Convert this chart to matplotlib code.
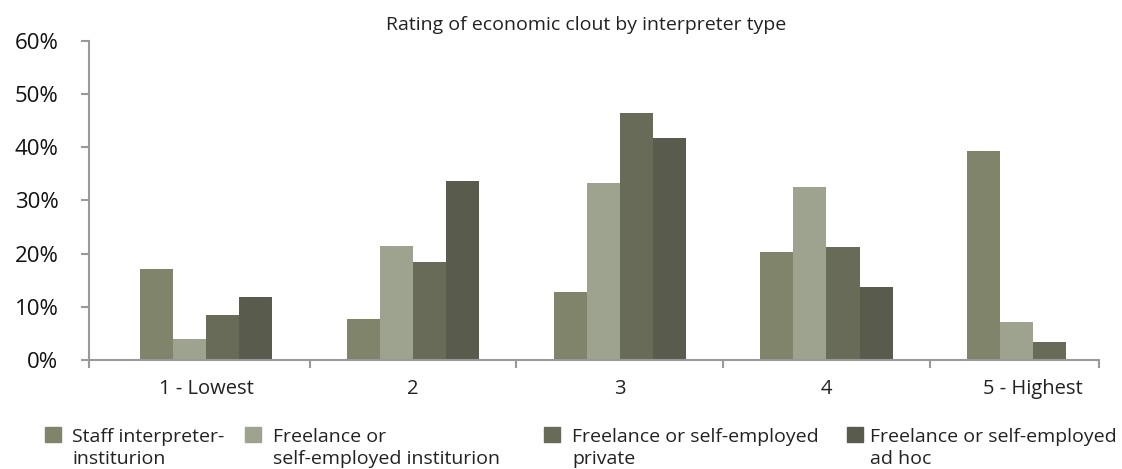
import numpy as np
import matplotlib.pyplot as plt
from matplotlib.patches import Rectangle
from matplotlib.ticker import PercentFormatter

plt.rcParams['font.family'] = ['Open Sans', 'DejaVu Sans']

# data (share of respondents, %)
categories = ["1 - Lowest", "2", "3", "4", "5 - Highest"]
staff_institution = [17.1, 7.7, 12.8, 20.3, 39.3]
freelance_institution = [3.9, 21.4, 33.3, 32.5, 7.1]
freelance_private = [8.5, 18.4, 46.5, 21.3, 3.4]
freelance_adhoc = [11.8, 33.7, 41.8, 13.7, 0.0]

series = [staff_institution, freelance_institution, freelance_private, freelance_adhoc]
labels = [("Staff interpreter-", "instituri" + "on"),
          ("Freelance or", "self-employed instituri" + "on"),
          ("Freelance or self-employed", "private"),
          ("Freelance or self-employed", "ad hoc")]
colors = ['#7f846a', '#9da38f', '#676b57', '#595c4d']

W, H = 1122, 469
fig = plt.figure(figsize=(W / 100, H / 100), dpi=100)
ax = fig.add_axes([89/W, 1 - 360/H, (1099 - 89)/W, (360 - 41)/H])

x = np.arange(len(categories))
w = 0.16
for i, (vals, c) in enumerate(zip(series, colors)):
    ax.bar(x + (i - 1.5) * w, np.array(vals) / 100, width=w, color=c, zorder=1)

ax.set_ylim(0, 0.6)
ax.set_xlim(-0.567, 4.318)
ax.yaxis.set_major_formatter(PercentFormatter(1.0, decimals=0))
ax.set_yticks(np.arange(0, 0.61, 0.1))

ax.set_xticks(x)
ax.set_xticklabels(categories)
ax.set_xticks([-0.567, 0.5, 1.5, 2.5, 3.5, 4.318], minor=True)

grey = '#999999'
for side in ['top', 'right']:
    ax.spines[side].set_visible(False)
for side in ['left', 'bottom']:
    ax.spines[side].set_color(grey)
    ax.spines[side].set_linewidth(1.5)
    ax.spines[side].set_zorder(3)

ax.tick_params(axis='y', length=6, width=1.5, color=grey, pad=16,
               labelsize=16, labelcolor='#111111')
ax.tick_params(axis='x', which='major', length=0, pad=14,
               labelsize=14.5, labelcolor='#222222')
ax.tick_params(axis='x', which='minor', length=6, width=1.5, color=grey)

fig.text(586/W, 1 - 30/H, "Rating of economic clout by interpreter type",
         ha='center', va='baseline', fontsize=14, color='#222222')

# legend drawn by hand, one row of four entries
box_x = [45, 245, 544, 847]
text_x = [72, 273, 572, 870]
for bx, tx, (l1, l2), c in zip(box_x, text_x, labels, colors):
    fig.add_artist(Rectangle((bx/W, 1 - 442/H), 16/W, 15/H,
                             transform=fig.transFigure, color=c))
    fig.text(tx/W, 1 - 442/H, l1, ha='left', va='baseline',
             fontsize=14, color='#222222')
    fig.text(tx/W, 1 - 464/H, l2, ha='left', va='baseline',
             fontsize=14, color='#222222')

fig.savefig('out.png', dpi=100)
